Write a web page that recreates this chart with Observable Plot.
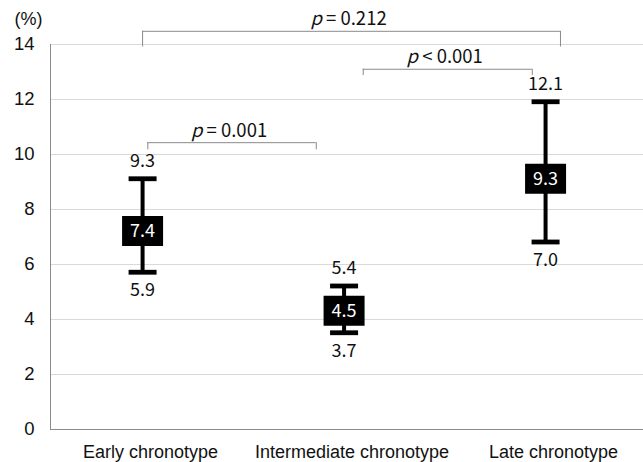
<!DOCTYPE html>
<html>
<head>
<meta charset="utf-8">
<script src="https://cdn.jsdelivr.net/npm/d3@7"></script>
<script src="https://cdn.jsdelivr.net/npm/@observablehq/plot@0.6"></script>
<style>
  html, body { margin: 0; padding: 0; background: white; }
</style>
</head>
<body>
<div id="chart"></div>
<script>
// ---- data ----
const categories = ["Early chronotype", "Intermediate chronotype", "Late chronotype"];
const means = [7.4, 4.5, 9.3];
const lows = [5.9, 3.7, 7.0];
const highs = [9.3, 5.4, 12.1];
const yTicks = [0, 2, 4, 6, 8, 10, 12, 14];
const pLabels = ["p = 0.001", "p < 0.001", "p = 0.212"];
const unitLabel = "(%)";

// ---- layout (annotation geometry, in x-index / y units) ----
const bracketSpans = [
  {x1: 0.026, x2: 0.862, y: 10.43, y0: 10.17},
  {x1: 1.095, x2: 1.934, y: 13.10, y0: 12.87},
  {x1: 0.000, x2: 2.074, y: 14.48, y0: 13.91}
];
const xMin = -0.457, xMax = 2.486;
const shift = 5; // vertical pixel nudge of the interval marks

const idx = categories.map((_, i) => i);
const brackets = bracketSpans.map((b, i) => ({...b, label: pLabels[i]}));

const capSymbol = {draw(ctx) {
  ctx.moveTo(-14, -2.4); ctx.lineTo(14, -2.4); ctx.lineTo(14, 2.4); ctx.lineTo(-14, 2.4); ctx.closePath();
}};
const boxSymbol = {draw(ctx) {
  ctx.moveTo(-20.5, -15); ctx.lineTo(20.5, -15); ctx.lineTo(20.5, 15); ctx.lineTo(-20.5, 15); ctx.closePath();
}};

const numFont = "'Noto Sans CJK KR', 'Noto Sans', sans-serif";
const axisFont = "'Liberation Sans', Arial, sans-serif";
const gray = "#8a8a8a";

const chart = Plot.plot({
  width: 643,
  height: 462,
  marginLeft: 50,
  marginRight: 0,
  marginTop: 44,
  marginBottom: 33,
  x: {domain: [xMin, xMax], axis: null},
  y: {domain: [0, 14], axis: null},
  style: {background: "white", fontFamily: axisFont, overflow: "visible"},
  marks: [
    // gridlines
    Plot.ruleY(yTicks.filter(d => d > 0), {stroke: "#d9d9d9", strokeWidth: 1}),
    // axes lines
    Plot.ruleX([xMin], {y1: 0, y2: 14, stroke: gray}),
    Plot.ruleY([0], {stroke: gray}),
    // y tick labels
    Plot.text(yTicks, {x: xMin, y: d => d, text: d => String(d), textAnchor: "end", dx: -16, fontSize: 18.5, fill: "#111", fontFamily: axisFont}),
    // unit label
    Plot.text([unitLabel], {x: xMin, y: 14, text: d => d, dx: -22, dy: -25, fontSize: 18, fill: "#111", fontFamily: axisFont}),
    // category labels
    Plot.text(idx, {x: i => i, y: 0, text: i => categories[i], dx: 8, dy: 23, fontSize: 18, fill: "#111", fontFamily: axisFont}),
    // whiskers
    Plot.ruleX(idx, {x: i => i, y1: i => lows[i], y2: i => highs[i], stroke: "black", strokeWidth: 4, dy: shift}),
    // caps
    Plot.dot(idx, {x: i => i, y: i => highs[i], symbol: capSymbol, fill: "black", stroke: null, dy: shift}),
    Plot.dot(idx, {x: i => i, y: i => lows[i], symbol: capSymbol, fill: "black", stroke: null, dy: shift}),
    // mean boxes
    Plot.dot(idx, {x: i => i, y: i => means[i], symbol: boxSymbol, fill: "black", stroke: null, dy: shift}),
    Plot.text(idx, {x: i => i, y: i => means[i], text: i => means[i].toFixed(1), fill: "white", fontSize: 18, fontFamily: numFont, dy: shift}),
    // high / low labels
    Plot.text(idx, {x: i => i, y: i => highs[i], text: i => highs[i].toFixed(1), fill: "#111", fontSize: 18, fontFamily: numFont, dy: shift - 18}),
    Plot.text(idx, {x: i => i, y: i => lows[i], text: i => lows[i].toFixed(1), fill: "#111", fontSize: 18, fontFamily: numFont, dy: shift + 18}),
    // brackets
    Plot.ruleY(brackets, {x1: "x1", x2: "x2", y: "y", stroke: gray, strokeWidth: 1}),
    Plot.ruleX(brackets, {x: "x1", y1: "y0", y2: "y", stroke: gray, strokeWidth: 1}),
    Plot.ruleX(brackets, {x: "x2", y1: "y0", y2: "y", stroke: gray, strokeWidth: 1}),
    Plot.text(brackets, {x: d => (d.x1 + d.x2) / 2, y: "y", text: "label", dy: -12, dx: -3, fontSize: 18.5, fill: "#111", fontFamily: numFont})
  ]
});

// italicise the leading "p" of the p-value labels
const pSet = new Set(pLabels);
d3.select(chart).selectAll("text").each(function() {
  const t = this.textContent;
  if (!pSet.has(t)) return;
  const rest = t.slice(1);
  this.textContent = "";
  d3.select(this).append("tspan").attr("font-style", "italic").text("p");
  d3.select(this).append("tspan").text(rest);
});

document.getElementById("chart").appendChild(chart);
</script>
</body>
</html>
